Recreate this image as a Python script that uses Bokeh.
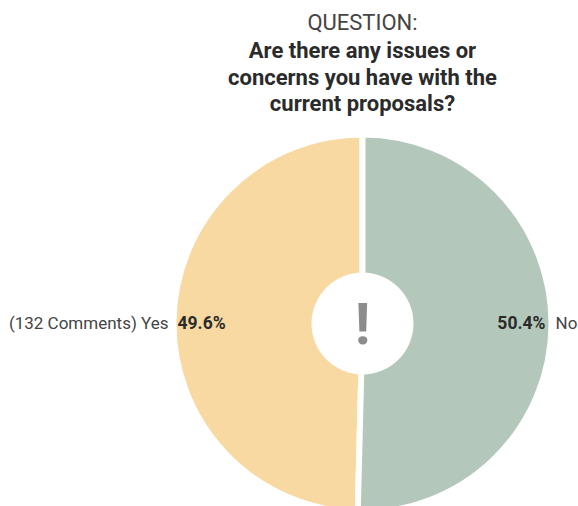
from bokeh.plotting import figure
from bokeh.models import Range1d, ColumnDataSource
from bokeh.core.properties import value
from bokeh.embed import file_html
from bokeh.resources import INLINE
import math

# data
categories = ["Yes", "No"]
percents = [49.6, 50.4]
notes = ["(132 Comments) ", ""]
colors = ["#F8D9A1", "#B3C8BA"]
question_lines = ["Are there any issues or", "concerns you have with the", "current proposals?"]
heading = "QUESTION:"

W, H = 578, 506
p = figure(width=W, height=H, x_range=Range1d(0, W), y_range=Range1d(0, H),
           output_backend="svg", toolbar_location=None, min_border=0)
p.axis.visible = False
p.grid.visible = False
p.outline_line_color = None
p.background_fill_color = "white"
p.border_fill_color = "white"

cx, cy, r = 362, H - 323, 189
FONT = "Roboto"

# wedges: "No" starts at top, clockwise; "Yes" continues
total = sum(percents)
no_frac = percents[1] / total
start = math.pi / 2
mid = start - 2 * math.pi * no_frac
src = ColumnDataSource(dict(
    x=[cx, cx], y=[cy, cy],
    start=[mid, start],
    end=[start - 2 * math.pi, mid],
    color=[colors[0], colors[1]],
))
p.wedge(x="x", y="y", radius=r, start_angle="start", end_angle="end", direction="clock",
        fill_color="color", line_color="white", line_width=6, source=src)

# center hole
p.scatter([cx], [cy], size=102, marker="circle", fill_color="white", line_color=None)
p.text([cx], [cy], text=["!"], text_font=value(FONT), text_font_style="bold",
       text_font_size="58px", text_color="#8C8C8C", text_align="center", text_baseline="middle")

# labels
ly = H - 322
p.text([168], [ly], text=[notes[0] + categories[0]], text_font=value(FONT), text_font_size="17px",
       text_color="#444444", text_align="right", text_baseline="middle")
p.text([177], [ly], text=[f"{percents[0]}%"], text_font=value(FONT), text_font_style="bold",
       text_font_size="17.5px", text_color="#2b2b2b", text_align="left", text_baseline="middle")
p.text([545], [ly], text=[f"{percents[1]}%"], text_font=value(FONT), text_font_style="bold",
       text_font_size="17.5px", text_color="#2b2b2b", text_align="right", text_baseline="middle")
p.text([555], [ly], text=[categories[1]], text_font=value(FONT), text_font_size="17px",
       text_color="#444444", text_align="left", text_baseline="middle")

# title
p.text([362], [H - 22], text=[heading], text_font=value(FONT), text_font_size="22px",
       text_color="#444444", text_align="center", text_baseline="middle")
for i, line in enumerate(question_lines):
    p.text([362], [H - (50 + 26.5 * i)], text=[line], text_font=value(FONT), text_font_style="bold",
           text_font_size="22px", text_color="#2b2b2b", text_align="center", text_baseline="middle")

open("out.html", "w").write(file_html(p, INLINE))
